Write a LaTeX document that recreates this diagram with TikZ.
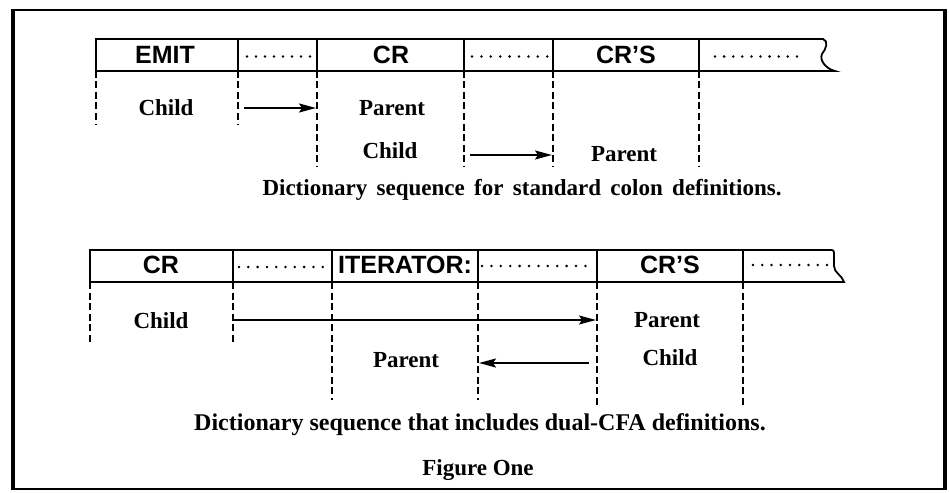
\documentclass[tikz,border=0pt]{standalone}
\usepackage{fontspec}
\setmainfont{Liberation Serif}
\setsansfont{Liberation Sans}
\usetikzlibrary{arrows.meta}

\tikzset{
  frame/.style={line width=2pt},
  cellrule/.style={line width=1.8pt},
  guide/.style={line width=1.6pt, dash pattern=on 7pt off 3.5pt},
  word/.style={font=\sffamily\bfseries\fontsize{25}{28}\selectfont, inner sep=0pt},
  role/.style={font=\bfseries\fontsize{23}{27}\selectfont, inner sep=0pt, anchor=base},
  caption/.style={font=\bfseries\fontsize{23}{27}\selectfont, inner sep=0pt, anchor=base},
  link/.style={line width=1.8pt, -{Stealth[length=17pt,width=9pt,inset=3pt]}},
  leader/.style={fill=black},
}

\begin{document}
\begin{tikzpicture}[x=1pt,y=-1pt]
\useasboundingbox (0,0) rectangle (949,492);

% outer frame
\draw[frame] (13,10.5) -- (945,10.5);
\draw[frame] (13,489) -- (945,489);
\draw[line width=4pt] (12.5,9.5) -- (12.5,490);
\draw[line width=4pt] (945,9.5) -- (945,490);

% ---------- first sequence ----------
\draw[cellrule] (96,39) -- (823,39)
  .. controls (829,41) and (826,49) .. (822,54)
  .. controls (819,60) and (826,69) .. (835,71)
  -- (96,71) -- cycle;
\foreach \x in {238,317,464,553,699} \draw[cellrule] (\x,39) -- (\x,71);

\node[word] (emit) at (165,54.5) {EMIT};
\node[word] (cra)  at (391,54.5) {CR};
\node[word] (crsa) at (626,54.5) {CR’S};
\foreach \i in {0,...,7} \fill[leader] (247+9*\i,56.5) circle (1.4pt);
\foreach \i in {0,...,8} \fill[leader] (472+9.4*\i,56.5) circle (1.4pt);
\foreach \i in {0,...,9} \fill[leader] (715+9.1*\i,56.5) circle (1.4pt);

\foreach \x in {96,238} \draw[guide] (\x,71) -- (\x,125);
\foreach \x in {317,464,553,699} \draw[guide] (\x,71) -- (\x,167);

\node[role] (childa)   at (166,115.5) {Child};
\node[role] (parenta)  at (392,115.5) {Parent};
\node[role] (childb)   at (390,158)   {Child};
\node[role] (parentb)  at (624,161)   {Parent};

\coordinate (a1s) at (244,108);
\coordinate (a1e) at (316,108);
\coordinate (a2s) at (470,155);
\coordinate (a2e) at (552,155);
\draw[link] (a1s) -- (a1e);
\draw[link] (a2s) -- (a2e);

\node[caption] (capa) at (522,195)
  {\makebox[519pt][s]{Dictionary sequence for standard colon definitions.}};

% ---------- second sequence ----------
\draw[cellrule] (90,250) -- (829,250)
  .. controls (834,250) .. (834,256) -- (834,266)
  .. controls (834,273) and (842,275) .. (844,282)
  -- (90,282) -- cycle;
\foreach \x in {233,332,478,597,743} \draw[cellrule] (\x,250) -- (\x,282);

\node[word] (crb)  at (161,265) {CR};
\node[word] (iter) at (405,265) {ITERATOR:};
\node[word] (crsb) at (670,265) {CR’S};
\foreach \i in {0,...,9}  \fill[leader] (239+9.3*\i,267) circle (1.4pt);
\foreach \i in {0,...,11} \fill[leader] (482+9.4*\i,266) circle (1.4pt);
\foreach \i in {0,...,8}  \fill[leader] (753+9.25*\i,265) circle (1.4pt);

\foreach \x in {90,233} \draw[guide] (\x,282) -- (\x,342);
\foreach \x in {332,478} \draw[guide] (\x,282) -- (\x,400);
\foreach \x in {597,743} \draw[guide] (\x,282) -- (\x,407);

\node[role] (childc)  at (161,328) {Child};
\node[role] (parentc) at (667,327) {Parent};
\node[role] (childd)  at (670,365) {Child};
\node[role] (parentd) at (406,367) {Parent};

\coordinate (a3s) at (234,320);
\coordinate (a3e) at (596,320);
\coordinate (a4s) at (589,363);
\coordinate (a4e) at (479,363);
\draw[link] (a3s) -- (a3e);
\draw[link] (a4s) -- (a4e);

\node[caption, font=\bfseries\fontsize{24}{28}\selectfont] (capb) at (480,430)
  {Dictionary sequence that includes dual-CFA definitions.};
\node[caption] (fig) at (478,475) {Figure One};
\end{tikzpicture}
\end{document}
